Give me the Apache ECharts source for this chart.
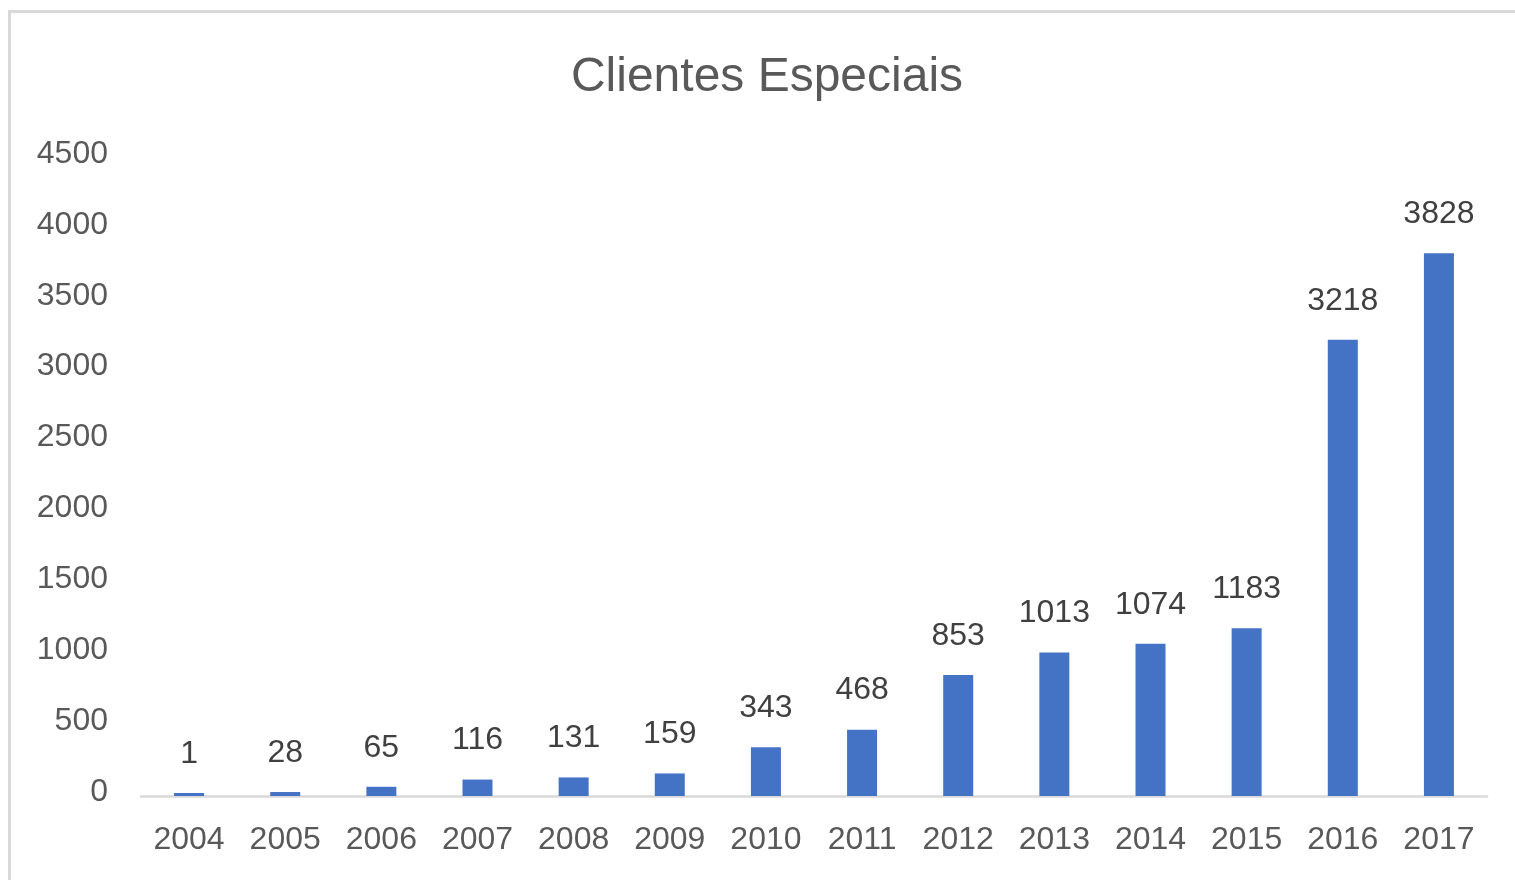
<!DOCTYPE html>
<html>
<head>
<meta charset="utf-8">
<script src="https://cdn.jsdelivr.net/npm/echarts@6/dist/echarts.min.js"></script>
<style>
  html, body { margin: 0; padding: 0; background: #fff; }
  #chart { width: 1515px; height: 880px; }
</style>
</head>
<body>
<div id="chart"></div>
<script>
const years = ['2004', '2005', '2006', '2007', '2008', '2009', '2010', '2011', '2012', '2013', '2014', '2015', '2016', '2017']
const clientes = [1, 28, 65, 116, 131, 159, 343, 468, 853, 1013, 1074, 1183, 3218, 3828]
const yMax = 4500
const yStep = 500

const font = 'Liberation Sans, Arial, sans-serif'
const myChart = echarts.init(document.getElementById('chart'))

myChart.setOption({
  animation: false,
  color: ['#4472C4'],
  title: {
    text: 'Clientes Especiais',
    left: 762,
    top: 49,
    textAlign: 'center',
    textStyle: {
      fontFamily: font,
      fontSize: 48,
      fontWeight: 'normal',
      color: '#595959'
    }
  },
  graphic: [
    {
      type: 'rect',
      shape: { x: 9.5, y: 11.5, width: 1540, height: 900 },
      style: { fill: 'none', stroke: '#d9d9d9', lineWidth: 3 },
      silent: true
    }
  ],
  grid: {
    left: 141,
    right: 28,
    top: 158,
    bottom: 84,
    containLabel: false
  },
  xAxis: {
    type: 'category',
    data: years,
    axisTick: { show: false },
    axisLine: {
      show: true,
      lineStyle: { color: '#d9d9d9', width: 2.5 }
    },
    axisLabel: {
      margin: 28,
      fontFamily: font,
      fontSize: 32,
      color: '#595959'
    }
  },
  yAxis: {
    type: 'value',
    min: 0,
    max: yMax,
    interval: yStep,
    axisLine: { show: false },
    axisTick: { show: false },
    splitLine: { show: false },
    axisLabel: {
      margin: 33,
      verticalAlign: 'bottom',
      lineHeight: 8,
      fontFamily: font,
      fontSize: 32,
      color: '#595959',
      formatter: v => String(v)
    }
  },
  series: [
    {
      type: 'bar',
      barWidth: 30,
      barMinHeight: 3,
      data: clientes,
      label: {
        show: true,
        position: 'top',
        distance: 23,
        fontFamily: font,
        fontSize: 32,
        color: '#404040'
      }
    }
  ]
})

window.addEventListener('resize', () => {
  myChart.resize()
})
</script>
</body>
</html>
